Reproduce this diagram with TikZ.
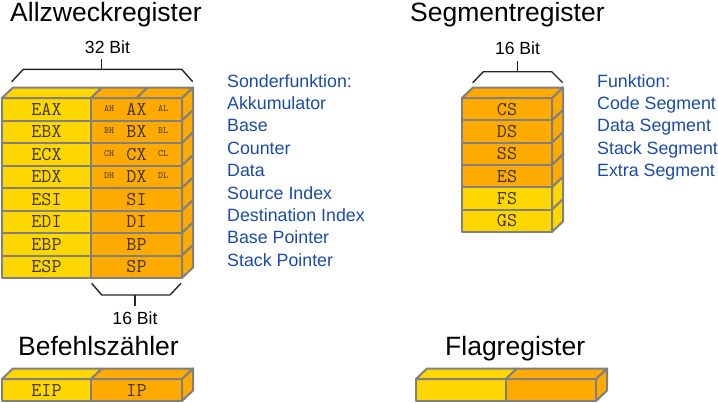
\documentclass[tikz,border=0pt]{standalone}
\usepackage{fontspec}
\setmainfont{Liberation Sans}
\definecolor{ygold}{RGB}{255,215,0}
\definecolor{orng}{RGB}{255,170,0}
\definecolor{edgegray}{RGB}{128,128,128}
\definecolor{fblue}{RGB}{25,75,170}
\definecolor{regtxt}{RGB}{60,52,30}
\begin{document}
\begin{tikzpicture}[x=1pt,y=-1pt,
  face/.style={draw=edgegray,line width=2pt,line join=round},
  regt/.style={inner sep=0pt,anchor=center,text=regtxt,font=\ttfamily\fontsize{19.5}{22}\selectfont},
  smallt/.style={inner sep=0pt,anchor=center,text=regtxt,font=\ttfamily\fontsize{9.5}{11}\selectfont},
  title/.style={inner sep=0pt,anchor=base west,font=\fontsize{26.5}{30}\selectfont},
  bitlbl/.style={inner sep=0pt,anchor=base,font=\fontsize{17.6}{20}\selectfont},
  bluet/.style={inner sep=0pt,anchor=base west,text=fblue,font=\fontsize{17.8}{20}\selectfont},
  brace/.style={draw=black!85,line width=1.4pt,line join=miter}]
\useasboundingbox (0,0) rectangle (718,402);

\def\ddx{11}
\def\ddy{10.5}

% ---------------- Allzweckregister ----------------
\node[title] (t1) at (10,21) {Allzweckregister};
\foreach \e/\s [count=\i from 0] in {EAX/AX,EBX/BX,ECX/CX,EDX/DX,ESI/SI,EDI/DI,EBP/BP,ESP/SP} {
  \pgfmathsetmacro\yt{98+22.5*\i}
  \pgfmathsetmacro\yb{\yt+22.5}
  \filldraw[face,fill=ygold] (2,\yt) rectangle (91,\yb);
  \filldraw[face,fill=orng] (91,\yt) rectangle (182,\yb);
  \filldraw[face,fill=orng] (182,\yt) -- ++(\ddx,-\ddy) -- (182+\ddx,\yb-\ddy) -- (182,\yb) -- cycle;
  \node[regt] (ae\i) at (46.5,\yt+11.25) {\e};
  \node[regt] (ax\i) at (136.5,\yt+11.25) {\s};
}
\foreach \h/\l [count=\i from 0] in {AH/AL,BH/BL,CH/CL,DH/DL} {
  \pgfmathsetmacro\yt{98+22.5*\i}
  \node[smallt] (ah\i) at (109,\yt+10.5) {\h};
  \node[smallt] (al\i) at (163,\yt+10.5) {\l};
}
\filldraw[face,fill=ygold] (2,98) -- ++(\ddx,-\ddy) -- (91+\ddx,98-\ddy) -- (91,98) -- cycle;
\filldraw[face,fill=orng] (91,98) -- ++(\ddx,-\ddy) -- (182+\ddx,98-\ddy) -- (182,98) -- cycle;
\draw[face] (136.5,98) -- ++(\ddx,-\ddy);

% braces
\coordinate (b1a) at (11.7,81.7);
\coordinate (b1b) at (23.3,69.3);
\coordinate (b1c) at (181.7,69.3);
\coordinate (b1d) at (192.7,81.7);
\draw[brace] (b1a) -- (b1b) -- (b1c) -- (b1d);
\coordinate (b1t) at (101.7,69.3);
\coordinate (b1u) at (101.7,59.3);
\draw[brace] (b1t) -- (b1u);
\node[bitlbl] (l32) at (107.5,53) {32 Bit};

\coordinate (b2a) at (91.7,283.3);
\coordinate (b2b) at (101.7,295);
\coordinate (b2c) at (170,295);
\coordinate (b2d) at (181,283.3);
\draw[brace] (b2a) -- (b2b) -- (b2c) -- (b2d);
\coordinate (b2t) at (135,295);
\coordinate (b2u) at (135,306);
\draw[brace] (b2t) -- (b2u);
\node[bitlbl] (l16a) at (135,324) {16 Bit};

\foreach \txt [count=\k from 0] in {Sonderfunktion:,Akkumulator,Base,Counter,Data,Source Index,Destination Index,Base Pointer,Stack Pointer}
  \node[bluet] (sf\k) at (227,87+22.4*\k) {\txt};

% ---------------- Segmentregister ----------------
\node[title] (t2) at (410,21) {Segmentregister};
\foreach \s/\c [count=\i from 0] in {CS/orng,DS/orng,SS/orng,ES/orng,FS/ygold,GS/ygold} {
  \pgfmathsetmacro\yt{98+22.33*\i}
  \pgfmathsetmacro\yb{\yt+22.33}
  \filldraw[face,fill=\c] (462,\yt) rectangle (552,\yb);
  \filldraw[face,fill=\c] (552,\yt) -- ++(\ddx,-\ddy) -- (552+\ddx,\yb-\ddy) -- (552,\yb) -- cycle;
  \node[regt] (sr\i) at (507,\yt+11.2) {\s};
}
\filldraw[face,fill=orng] (462,98) -- ++(\ddx,-\ddy) -- (552+\ddx,98-\ddy) -- (552,98) -- cycle;

\coordinate (b3a) at (472.7,82.7);
\coordinate (b3b) at (483.3,71.7);
\coordinate (b3c) at (551.7,71.7);
\coordinate (b3d) at (562.7,82.7);
\draw[brace] (b3a) -- (b3b) -- (b3c) -- (b3d);
\coordinate (b3t) at (517.7,71.7);
\coordinate (b3u) at (517.7,60.7);
\draw[brace] (b3t) -- (b3u);
\node[bitlbl] (l16b) at (517.5,54) {16 Bit};

\foreach \txt [count=\k from 0] in {Funktion:,Code Segment,Data Segment,Stack Segment,Extra Segment}
  \node[bluet] (fk\k) at (597,87+22.4*\k) {\txt};

% ---------------- Befehlszaehler ----------------
\node[title] (t3) at (18,355) {Befehlszähler};
\filldraw[face,fill=ygold] (2,379) rectangle (91,401);
\filldraw[face,fill=orng] (91,379) rectangle (182,401);
\filldraw[face,fill=orng] (182,379) -- ++(\ddx,-\ddy) -- (182+\ddx,401-\ddy) -- (182,401) -- cycle;
\filldraw[face,fill=ygold] (2,379) -- ++(\ddx,-\ddy) -- (91+\ddx,379-\ddy) -- (91,379) -- cycle;
\filldraw[face,fill=orng] (91,379) -- ++(\ddx,-\ddy) -- (182+\ddx,379-\ddy) -- (182,379) -- cycle;
\node[regt] (eip) at (46.5,390.5) {EIP};
\node[regt] (ip) at (136.5,390.5) {IP};

% ---------------- Flagregister ----------------
\node[title] (t4) at (445,355) {Flagregister};
\filldraw[face,fill=ygold] (416,379) rectangle (506,401);
\filldraw[face,fill=orng] (506,379) rectangle (596,401);
\filldraw[face,fill=orng] (596,379) -- ++(\ddx,-\ddy) -- (596+\ddx,401-\ddy) -- (596,401) -- cycle;
\filldraw[face,fill=ygold] (416,379) -- ++(\ddx,-\ddy) -- (506+\ddx,379-\ddy) -- (506,379) -- cycle;
\filldraw[face,fill=orng] (506,379) -- ++(\ddx,-\ddy) -- (596+\ddx,379-\ddy) -- (596,379) -- cycle;
\end{tikzpicture}
\end{document}
